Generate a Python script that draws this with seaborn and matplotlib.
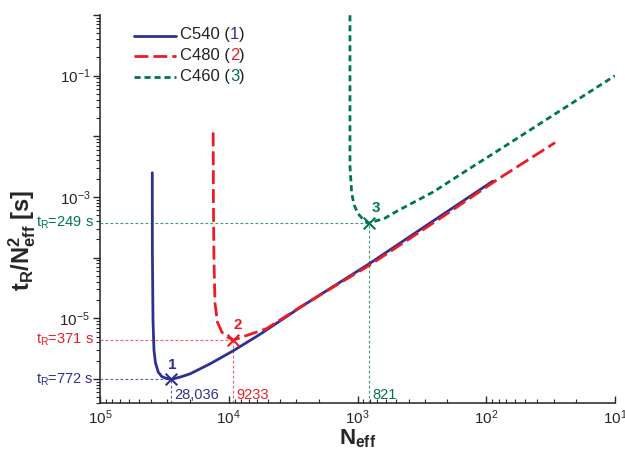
import matplotlib
matplotlib.use("Agg")
import matplotlib.pyplot as plt
import numpy as np
import pandas as pd
import seaborn as sns
from matplotlib.lines import Line2D
from matplotlib.offsetbox import AnchoredOffsetbox, DrawingArea, HPacker, TextArea, VPacker
from matplotlib.ticker import LogLocator, NullFormatter

# curves (N_eff, t_R / N_eff^2 in s)
C540_N = [39260, 39190, 38760, 38080, 37120, 35270, 33060, 31270, 28036, 23910,
          20000, 13980, 9280, 5720, 2797, 800, 327, 89.1]
C540_Y = [2.51e-3, 1.34e-4, 9.27e-6, 2.95e-6, 1.86e-6, 1.29e-6, 1.09e-6, 1.04e-6, 9.82e-7, 1.07e-6,
          1.21e-6, 1.77e-6, 2.89e-6, 5.43e-6, 1.50e-5, 8.07e-5, 2.88e-4, 1.82e-3]

C480_N = [13210, 13160, 13030, 12790, 12240, 11290, 10130, 9233, 6840, 5080,
          2797, 1637, 800, 216, 78.2, 29.2]
C480_Y = [1.16e-2, 9.06e-4, 9.16e-5, 1.77e-5, 8.59e-6, 5.86e-6, 4.84e-6, 4.35e-6, 5.43e-6, 6.75e-6,
          1.52e-5, 3.03e-5, 7.57e-5, 4.79e-4, 2.07e-3, 7.88e-3]

C460_N = [1144, 1144, 1144, 1110, 1065, 991, 907, 821, 612, 497,
          258, 142, 78.2, 26.7, 10]
C460_Y = [0.993, 4.12e-2, 3.23e-3, 1.17e-3, 7.48e-4, 5.31e-4, 4.30e-4, 3.69e-4, 4.47e-4, 5.79e-4,
          1.21e-3, 2.74e-3, 6.11e-3, 2.64e-2, 0.1]

# optimum points
OPT_LABELS = ["1", "2", "3"]
OPT_N = [28036, 9233, 821]
OPT_Y = [9.82e-7, 4.35e-6, 3.69e-4]
OPT_N_TEXT = ["28,036", "9233", "821"]
OPT_TR_TEXT = ["772", "371", "249"]

COLUMNS = ["C540", "C480", "C460"]
COLORS = ["#2e3192", "#ed1c24", "#00774a"]
GUIDE_COLORS = ["#5a5fb0", "#f05a60", "#3a9a72"]
DASHES = ["-", (0, (5, 1.8)), (0, (2.2, 1.4))]


def build_frame() -> pd.DataFrame:
    parts = []
    for name, n, y in zip(COLUMNS, [C540_N, C480_N, C460_N], [C540_Y, C480_Y, C460_Y]):
        parts.append(pd.DataFrame({"column": name, "N": n, "y": y}))
    return pd.concat(parts, ignore_index=True)


def add_legend(ax: plt.Axes) -> None:
    rows = []
    for name, num, color, dash in zip(COLUMNS, OPT_LABELS, COLORS, DASHES):
        da = DrawingArea(30, 10, 0, 0)
        da.add_artist(Line2D([0, 30], [4.5, 4.5], color=color, lw=2, linestyle=dash))
        text = HPacker(
            children=[
                TextArea(f"{name} (", textprops=dict(color="#222222", size=12)),
                TextArea(num, textprops=dict(color=color, size=12)),
                TextArea(")", textprops=dict(color="#222222", size=12)),
            ],
            align="baseline", pad=0, sep=0,
        )
        rows.append(HPacker(children=[da, text], align="center", pad=0, sep=3))
    box = VPacker(children=rows, align="left", pad=0, sep=4)
    anchored = AnchoredOffsetbox(
        loc="upper left", child=box, pad=0, borderpad=0, frameon=False,
        bbox_to_anchor=(0.066, 0.968), bbox_transform=ax.transAxes,
    )
    ax.add_artist(anchored)


def main() -> None:
    sns.set_theme(style="ticks")
    plt.rcParams["font.family"] = ["Liberation Sans", "DejaVu Sans"]
    plt.rcParams["mathtext.fontset"] = "custom"
    plt.rcParams["mathtext.rm"] = "Liberation Sans"
    plt.rcParams["mathtext.it"] = "Liberation Sans:italic"
    plt.rcParams["mathtext.bf"] = "Liberation Sans:bold"

    df = build_frame()

    fig = plt.figure(figsize=(6.25, 4.49), dpi=100)
    ax = fig.add_axes([0.16, 0.1024, 0.824, 0.8641])
    ax.set_xscale("log")
    ax.set_yscale("log")

    for name, color, dash in zip(COLUMNS, COLORS, DASHES):
        sub = df[df["column"] == name]
        sns.lineplot(data=sub, x="N", y="y", sort=False, estimator=None, ax=ax,
                     color=color, linestyle=dash, lw=2, zorder=3)

    ax.set_xlim(1e5, 10)
    ax.set_ylim(4e-7, 1)

    # guide lines, markers and annotations for the optima
    for i in range(3):
        n, y, color = OPT_N[i], OPT_Y[i], COLORS[i]
        guide = dict(color=GUIDE_COLORS[i], lw=0.8, linestyle=(0, (2.5, 2)), zorder=2)
        ax.plot([1e5, n], [y, y], **guide)
        ax.plot([n, n], [4e-7, y], **guide)
        ax.scatter([n], [y], marker="x", s=70, color=color, linewidths=1.5, zorder=4)
        ax.annotate(OPT_LABELS[i], xy=(n, y), xytext=[(1, 10), (3, 11), (5, 11)][i],
                    textcoords="offset points", ha="center", va="center",
                    color=color, fontsize=11, fontweight="bold")
        ax.annotate(OPT_N_TEXT[i], xy=(n, 0), xycoords=ax.get_xaxis_transform(),
                    xytext=(2.5, 1), textcoords="offset points", ha="left", va="bottom",
                    color=color, fontsize=10.5)
        ax.text(-0.012, y, r"$\mathregular{t_R}$=" + OPT_TR_TEXT[i] + " s",
                transform=ax.get_yaxis_transform(), ha="right", va="center",
                color=color, fontsize=10.5)

    ax.set_xticks([1e5, 1e4, 1e3, 1e2, 1e1],
                  [r"$\mathregular{10^{5}}$", r"$\mathregular{10^{4}}$", r"$\mathregular{10^{3}}$",
                   r"$\mathregular{10^{2}}$", r"$\mathregular{10^{1}}$"])
    ax.set_yticks([1e-6, 1e-5, 1e-4, 1e-3, 1e-2, 1e-1, 1],
                  ["", r"$\mathregular{10^{-5}}$", "", r"$\mathregular{10^{-3}}$", "",
                   r"$\mathregular{10^{-1}}$", ""])
    for axis in (ax.xaxis, ax.yaxis):
        axis.set_minor_locator(LogLocator(base=10, subs=np.arange(2, 10), numticks=20))
        axis.set_minor_formatter(NullFormatter())
    ax.set_ylim(4e-7, 1)

    ax.tick_params(axis="x", which="major", direction="in", length=5, width=1, labelsize=11, pad=4)
    ax.tick_params(axis="x", which="minor", direction="in", length=3, width=0.8)
    ax.tick_params(axis="y", which="major", direction="out", length=5, width=1, labelsize=11, pad=2)
    ax.tick_params(axis="y", which="minor", direction="out", length=3, width=0.8)
    for side in ("top", "right"):
        ax.spines[side].set_visible(False)
    for side in ("left", "bottom"):
        ax.spines[side].set_color("#333333")
        ax.spines[side].set_linewidth(1.2)

    ax.set_xlabel(r"$\mathbf{N_{eff}}$", fontsize=16)
    ax.xaxis.set_label_coords(0.5, -0.062)
    ax.set_ylabel(r"$\mathbf{t_R/N_{eff}^{2}\ [s]}$", fontsize=17)
    ax.yaxis.set_label_coords(-0.12, 0.42)

    add_legend(ax)

    fig.savefig("out.png", dpi=100)
    plt.close(fig)


if __name__ == "__main__":
    main()
